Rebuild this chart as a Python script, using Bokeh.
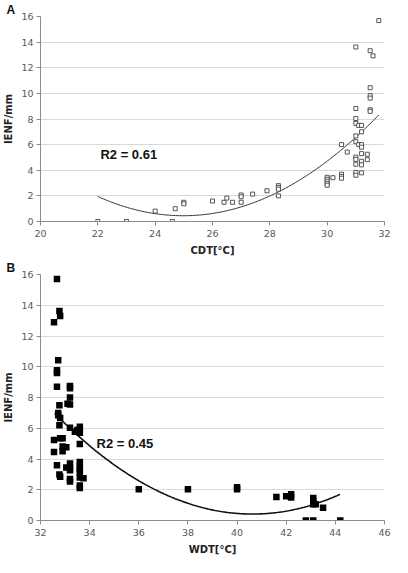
import numpy as np
from bokeh.plotting import figure
from bokeh.models import Label, FixedTicker
from bokeh.layouts import column
from bokeh.embed import file_html
from bokeh.resources import INLINE

# ---- Panel A data: CDT vs IENF/mm ----
cdt = [22.0, 23.0, 24.0, 24.6, 24.7, 25.0, 25.0, 26.0, 26.4, 26.5, 26.7, 27.0, 27.0, 27.0,
       27.4, 27.9, 28.3, 28.3, 28.3, 28.3,
       30.0, 30.0, 30.0, 30.0, 30.0, 30.2, 30.5, 30.5, 30.5, 30.5, 30.7,
       31.0, 31.0, 31.0, 31.0, 31.0, 31.0, 31.0, 31.0, 31.0, 31.0, 31.0,
       31.1, 31.2, 31.2, 31.1, 31.2, 31.2, 31.2, 31.2, 31.2, 31.2,
       31.4, 31.4, 31.5, 31.5, 31.5, 31.5, 31.5, 31.5, 31.6, 31.8]
ienf_a = [0.0, 0.0, 0.81, 0.0, 1.0, 1.5, 1.38, 1.6, 1.5, 1.83, 1.5, 1.5, 2.07, 1.93,
          2.14, 2.4, 2.8, 2.66, 2.52, 2.0,
          3.45, 3.3, 3.14, 2.97, 2.83, 3.42, 3.69, 3.52, 3.38, 6.0, 5.42,
          13.62, 8.82, 8.04, 7.66, 6.68, 6.23, 5.02, 4.85, 4.47, 3.83, 3.61,
          7.5, 7.5, 7.0, 6.0, 6.0, 5.8, 5.3, 4.7, 4.42, 3.8,
          5.25, 4.83, 10.44, 9.82, 9.63, 8.72, 8.6, 13.33, 12.93, 15.68]

# ---- Panel B data: WDT vs IENF/mm ----
wdt = [32.67, 32.55, 32.77, 32.8, 32.72, 32.67, 32.67, 32.67, 33.2, 33.2, 32.77, 33.2, 33.2,
       33.1, 32.72, 32.72, 32.8, 32.77, 33.2, 33.6, 33.6, 33.6, 33.4, 33.5, 32.55, 32.8, 32.9,
       33.6, 32.55, 32.9, 32.9, 33.05, 32.67, 33.2, 33.2, 33.2, 33.05, 33.6, 33.6, 33.6, 33.6,
       32.77, 32.8, 33.2, 33.2, 33.6, 33.75, 33.6, 33.6,
       36.0, 38.0, 40.0, 40.0, 41.6, 42.0, 42.2, 42.2, 42.8, 43.1, 43.1, 43.1, 43.2, 43.1,
       43.5, 44.2]
ienf_b = [15.7, 12.9, 13.63, 13.3, 10.42, 9.78, 9.6, 8.7, 8.75, 8.6, 7.5, 8.0, 7.54,
          7.6, 7.0, 6.84, 6.67, 6.2, 6.03, 6.1, 5.9, 5.7, 5.78, 5.88, 5.24, 5.35, 5.35,
          4.97, 4.46, 4.82, 4.5, 4.76, 3.6, 3.7, 3.42, 3.27, 3.44, 3.8, 3.55, 3.33, 3.12,
          3.0, 2.85, 2.7, 2.53, 2.8, 2.74, 2.27, 2.12,
          2.04, 2.04, 2.17, 2.04, 1.53, 1.57, 1.7, 1.5, 0.0, 1.46, 1.27, 1.06, 1.06, 0.0,
          0.83, 0.0]

# quadratic trendlines: a*(x-h)^2 + k, drawn over [x_start, x_end]
trend_a_vertex = [0.169, 24.98, 0.45]   # a, h, k
trend_a_span = [22.0, 31.8]
trend_b_vertex = [0.101, 40.63, 0.42]
trend_b_span = [32.58, 44.19]

y_ticks = [0, 2, 4, 6, 8, 10, 12, 14, 16]
x_ticks_a = [20, 22, 24, 26, 28, 30, 32]
x_ticks_b = [32, 34, 36, 38, 40, 42, 44, 46]
r2_a = "R2 = 0.61"
r2_b = "R2 = 0.45"
r2_a_pos = [22.09, 5.23]
r2_b_pos = [34.28, 4.99]

TICK_FONT = "DejaVu Sans"
GRAY = "#595959"
AXIS = "#8c8c8c"


def trend(vertex, span):
    a, h, k = vertex
    xs = np.linspace(span[0], span[1], 200)
    return xs, a * (xs - h) ** 2 + k


def style(p, xticks, xlabel, panel_letter):
    p.title.text = panel_letter
    p.title.align = "left"
    p.title.offset = -34
    p.title.standoff = 0
    p.title.text_font = "Liberation Sans"
    p.title.text_font_style = "bold"
    p.title.text_font_size = "12px"
    p.title.text_color = "#111111"
    p.xaxis.ticker = FixedTicker(ticks=xticks)
    p.yaxis.ticker = FixedTicker(ticks=y_ticks)
    p.xgrid.grid_line_color = None
    p.ygrid.grid_line_color = "#d9d9d9"
    p.ygrid.grid_line_width = 1
    p.outline_line_color = None
    for ax in (p.xaxis[0], p.yaxis[0]):
        ax.axis_line_color = AXIS
        ax.major_tick_line_color = AXIS
        ax.minor_tick_line_color = None
        ax.major_tick_in = 0
        ax.major_tick_out = 4
        ax.major_label_text_font = TICK_FONT
        ax.major_label_text_font_size = "9.5px"
        ax.major_label_text_color = GRAY
        ax.axis_label_text_font = "DejaVu Sans"
        ax.axis_label_text_font_style = "bold"
        ax.axis_label_text_font_size = "10px"
        ax.axis_label_text_color = "#222222"
    p.xaxis.major_label_standoff = 4
    p.xaxis.axis_label_standoff = 5
    p.yaxis.major_label_standoff = 3
    p.yaxis.axis_label_standoff = 4
    p.xaxis.axis_label = xlabel
    p.yaxis.axis_label = "IENF/mm"


W = 392

pa = figure(width=W, height=258, x_range=(20, 32), y_range=(0, 16),
            output_backend="svg", toolbar_location=None, title="A",
            min_border_left=32, min_border_right=6, min_border_top=0, min_border_bottom=30)
style(pa, x_ticks_a, "CDT[°C]", "A")
xa, ya = trend(trend_a_vertex, trend_a_span)
pa.line(xa, ya, line_color="#333333", line_width=1)
pa.scatter(cdt, ienf_a, marker="square", size=4, fill_color="white",
           line_color="#444444", line_width=0.9)
pa.add_layout(Label(x=r2_a_pos[0], y=r2_a_pos[1], text=r2_a, text_font="Liberation Sans",
                    text_font_style="bold", text_font_size="13px",
                    text_baseline="middle", text_color="#111111"))

pb = figure(width=W, height=299, x_range=(32, 46), y_range=(0, 16),
            output_backend="svg", toolbar_location=None, title="B",
            min_border_left=32, min_border_right=8, min_border_top=0, min_border_bottom=30)
style(pb, x_ticks_b, "WDT[°C]", "B")
xb, yb = trend(trend_b_vertex, trend_b_span)
pb.line(xb, yb, line_color="#111111", line_width=1.6)
pb.scatter(wdt, ienf_b, marker="square", size=6.5, fill_color="black",
           line_color="black", line_width=0)
pb.add_layout(Label(x=r2_b_pos[0], y=r2_b_pos[1], text=r2_b, text_font="Liberation Sans",
                    text_font_style="bold", text_font_size="13px",
                    text_baseline="middle", text_color="#111111"))

layout = column(pa, pb, spacing=0)
open("out.html", "w").write(file_html(layout, INLINE))
